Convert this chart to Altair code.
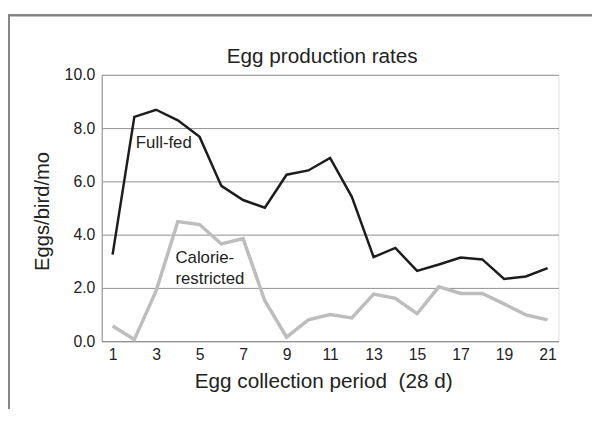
import altair as alt
import pandas as pd

# ---- data ----
periods = list(range(1, 22))
full_fed = [3.25, 8.42, 8.69, 8.29, 7.67, 5.83, 5.30, 5.01, 6.25, 6.41, 6.88,
            5.42, 3.16, 3.50, 2.64, 2.88, 3.14, 3.07, 2.34, 2.43, 2.74]
calorie_restricted = [0.57, 0.06, 1.89, 4.49, 4.38, 3.65, 3.85, 1.52, 0.15, 0.80, 1.00,
                      0.87, 1.77, 1.61, 1.03, 2.04, 1.79, 1.79, 1.40, 0.99, 0.80]
series_names = ["Calorie-restricted", "Full-fed"]
x_ticks = [1, 3, 5, 7, 9, 11, 13, 15, 17, 19, 21]
y_ticks = [0, 2, 4, 6, 8, 10]
label_text = ["Full-fed", "Calorie-", "restricted"]
label_x = [2.07, 3.89, 3.89]
label_y = [7.26, 2.93, 2.15]

df = pd.DataFrame({
    "period": periods + periods,
    "value": calorie_restricted + full_fed,
    "series": [series_names[0]] * len(periods) + [series_names[1]] * len(periods),
})
labels = pd.DataFrame({"text": label_text, "x": label_x, "y": label_y})
dummy = pd.DataFrame({"k": [0]})

FONT = "Liberation Sans"
TXT = "#222222"
GRID = "#8f8f8f"

x_scale = alt.Scale(domain=[0.5, 21.5], nice=False, zero=False)
y_scale = alt.Scale(domain=[0, 10], nice=False, zero=False)

lines = alt.Chart(df).mark_line().encode(
    x=alt.X("period:Q", scale=x_scale, axis=alt.Axis(
        values=x_ticks, format="d", title="Egg collection period\u00a0 (28 d)",
        ticks=False, grid=False, labelPadding=6, labelFontSize=16, labelColor=TXT,
        labelFont=FONT, domainColor=GRID, domainWidth=1,
        titleFont=FONT, titleFontSize=21, titleFontWeight="normal", titleColor=TXT,
        titleX=224.5, titleY=47, titleBaseline="alphabetic", titleAlign="center")),
    y=alt.Y("value:Q", scale=y_scale, axis=alt.Axis(
        values=y_ticks, format=".1f", title="Eggs/bird/mo",
        ticks=False, grid=True, gridColor=GRID, gridWidth=1, gridOpacity=1,
        labelPadding=7, labelFontSize=16, labelColor=TXT, labelFont=FONT,
        domainColor=GRID, domainWidth=1,
        titleFont=FONT, titleFontSize=20.5, titleFontWeight="normal", titleColor=TXT,
        titleAngle=270, titleX=-54, titleY=138, titleBaseline="alphabetic",
        titleAlign="center")),
    color=alt.Color("series:N", scale=alt.Scale(domain=series_names,
                    range=["#bdbdbd", "#1c1c1c"]), legend=None),
    strokeWidth=alt.StrokeWidth("series:N", scale=alt.Scale(domain=series_names,
                                range=[3.5, 2.5]), legend=None),
)

text = alt.Chart(labels).mark_text(
    align="left", baseline="alphabetic", font=FONT, fontSize=17, color=TXT
).encode(
    x=alt.X("x:Q", scale=x_scale),
    y=alt.Y("y:Q", scale=y_scale),
    text="text:N",
)

frame_left = alt.Chart(dummy).mark_rule(color="#858585", strokeWidth=2).encode(
    x=alt.value(-94), x2=alt.value(-94), y=alt.value(-61), y2=alt.value(400))
frame_top = alt.Chart(dummy).mark_rule(color="#858585", strokeWidth=2.5).encode(
    x=alt.value(-95), x2=alt.value(497), y=alt.value(-60.5), y2=alt.value(-60.5))

chart = alt.layer(frame_left, frame_top, lines, text).properties(
    width=463, height=270,
    title=alt.TitleParams("Egg production rates", font=FONT, fontSize=21,
                          fontWeight="normal", color=TXT, anchor="middle",
                          frame="group", dx=-8, baseline="alphabetic", offset=-70.75),
    autosize=alt.AutoSizeParams(type="none"),
    padding={"left": 95, "top": 65, "right": 34, "bottom": 66},
).configure_view(stroke=None).configure(background="white")

chart.save("out.html", embed_options={"renderer": "svg", "actions": False})
